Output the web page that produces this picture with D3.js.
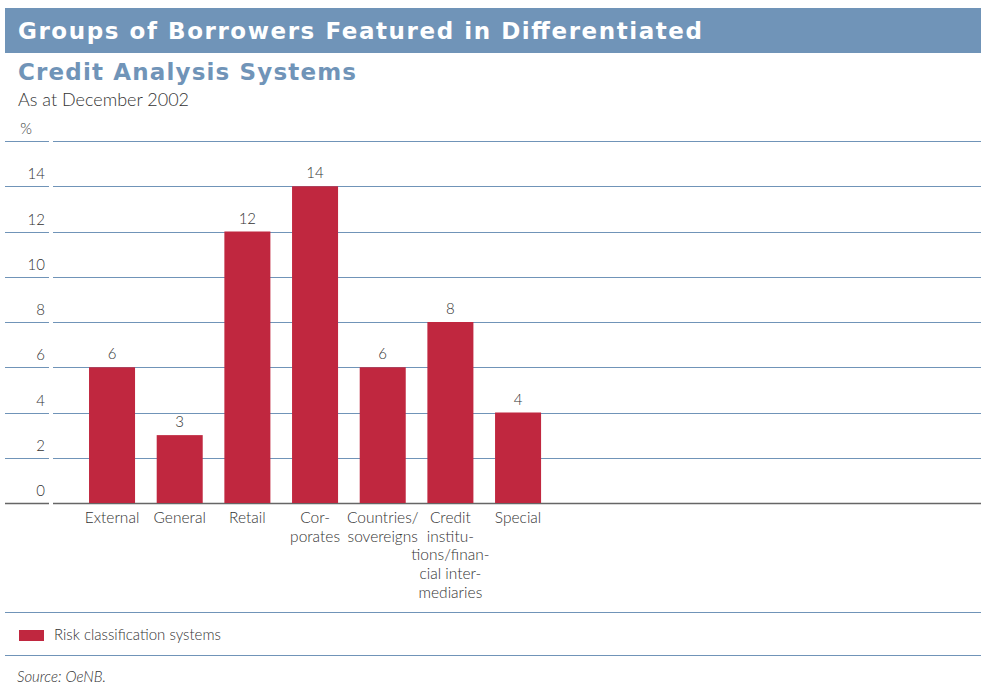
<!DOCTYPE html>
<html><head><meta charset="utf-8">
<script src="https://cdn.jsdelivr.net/npm/d3@7"></script>
<style>body{margin:0;background:#fff}svg{display:block}</style>
</head><body><svg id="c" width="981" height="691"></svg>
<script>
const categories = ["External","General","Retail","Corporates","Countries/sovereigns","Credit institutions/financial intermediaries","Special"];
const categoryLines = [["External"],["General"],["Retail"],["Cor-","porates"],["Countries/","sovereigns"],["Credit","institu-","tions/finan-","cial inter-","mediaries"],["Special"]];
const values = [6,3,12,14,6,8,4];
const yTicks = [0,2,4,6,8,10,12,14,16];
const yTickLabels = ["0","2","4","6","8","10","12","14","%"];
const seriesName = "Risk classification systems";

const svg = d3.select("#c");
const blue = "#7094b8", red = "#c0273f", txt = "#333";
const font = "Lato, 'Open Sans', sans-serif";
const heavy = "'DejaVu Sans', sans-serif";

svg.append("rect").attr("x",5).attr("y",8).attr("width",976).attr("height",45).attr("fill",blue);
svg.append("text").attr("x",18).attr("y",39).attr("fill","#fff").attr("font-family",heavy).attr("font-weight",700)
  .attr("font-size",23).attr("textLength",684).attr("lengthAdjust","spacing").text("Groups of Borrowers Featured in Differentiated");
svg.append("text").attr("x",18).attr("y",80).attr("fill",blue).attr("font-family",heavy).attr("font-weight",700)
  .attr("font-size",23).attr("textLength",338).attr("lengthAdjust","spacing").text("Credit Analysis Systems");
svg.append("text").attr("x",18).attr("y",106).attr("fill",txt).attr("font-family",font).attr("font-weight",300)
  .attr("font-size",18).text("As at December 2002");

const y = d3.scaleLinear().domain([0,16]).range([503,141]);
const x = d3.scaleBand().domain(categories).range([78.2,551.9]).paddingInner(0.32).paddingOuter(0.16);

const g = svg.append("g");
yTicks.forEach((t,i)=>{
  const yy = Math.round(y(t))+0.5;
  const col = t===0 ? "#666" : blue;
  const w = t===0 ? 1.6 : 1.2;
  g.append("line").attr("x1",5).attr("x2",49).attr("y1",yy).attr("y2",yy).attr("stroke",col).attr("stroke-width",w);
  g.append("line").attr("x1",53).attr("x2",981).attr("y1",yy).attr("y2",yy).attr("stroke",col).attr("stroke-width",w);
  g.append("text").attr("x",i===yTicks.length-1?32:45).attr("y",yy-8).attr("text-anchor","end")
    .attr("fill",txt).attr("font-family",font).attr("font-weight",300).attr("font-size",15).text(yTickLabels[i]);
});

svg.append("g").selectAll("rect").data(values).join("rect")
  .attr("x",(d,i)=>x(categories[i])).attr("width",x.bandwidth())
  .attr("y",d=>y(d)).attr("height",d=>y(0)-y(d)).attr("fill",red);

svg.append("g").selectAll("text").data(values).join("text")
  .attr("x",(d,i)=>x(categories[i])+x.bandwidth()/2).attr("y",d=>y(d)-8)
  .attr("text-anchor","middle").attr("fill",txt).attr("font-family",font).attr("font-weight",300).attr("font-size",15)
  .text(d=>d);

categoryLines.forEach((lines,i)=>{
  const t = svg.append("text").attr("text-anchor","middle").attr("fill",txt).attr("font-family",font)
    .attr("font-weight",300).attr("font-size",15.5);
  lines.forEach((l,j)=>t.append("tspan").attr("x",x(categories[i])+x.bandwidth()/2).attr("y",523+j*18.7).text(l));
});

svg.append("line").attr("x1",5).attr("x2",981).attr("y1",612.5).attr("y2",612.5).attr("stroke",blue).attr("stroke-width",1.2);
svg.append("line").attr("x1",5).attr("x2",981).attr("y1",655.5).attr("y2",655.5).attr("stroke",blue).attr("stroke-width",1.2);
svg.append("rect").attr("x",19).attr("y",630).attr("width",25).attr("height",11).attr("fill",red);
svg.append("text").attr("x",54).attr("y",640).attr("fill",txt).attr("font-family",font).attr("font-weight",300)
  .attr("font-size",15).text(seriesName);
svg.append("text").attr("x",17).attr("y",682).attr("fill",txt).attr("font-family",font).attr("font-weight",300)
  .attr("font-style","italic").attr("font-size",15).text("Source: OeNB.");
</script></body></html>
